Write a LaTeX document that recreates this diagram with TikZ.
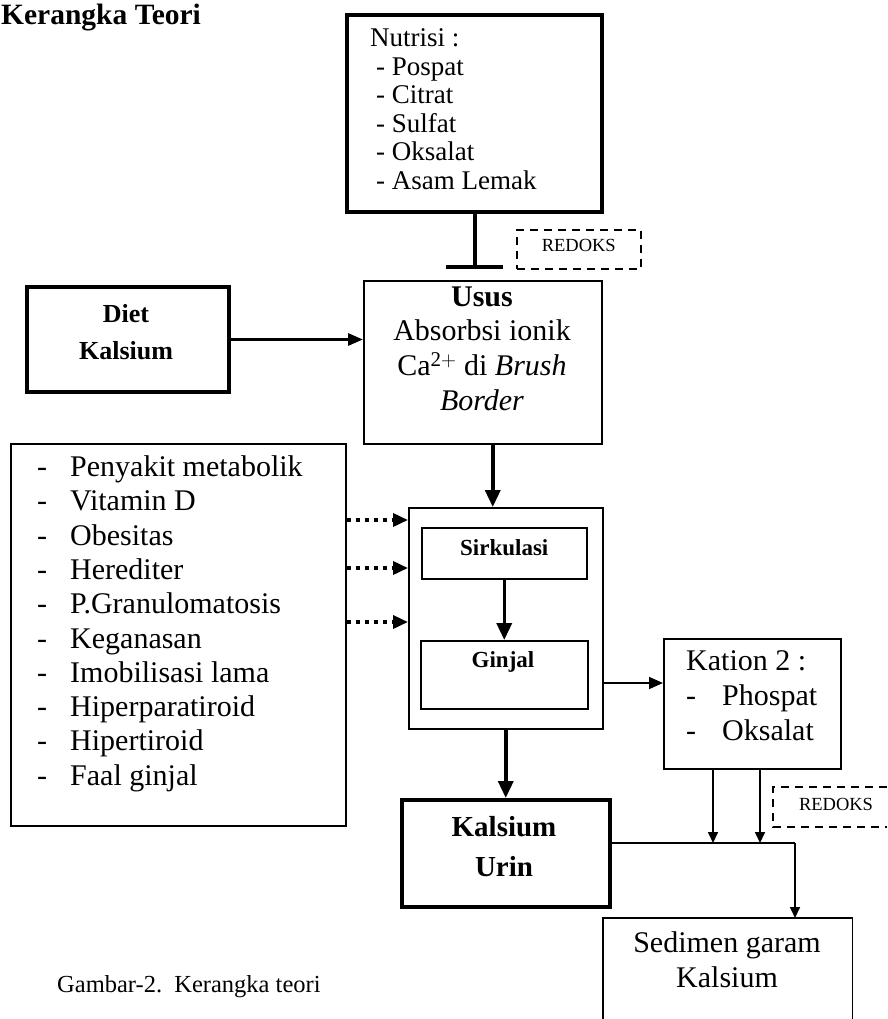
\documentclass[tikz,border=0pt]{standalone}
\usepackage{fontspec}
\setmainfont{Liberation Serif}
\usetikzlibrary{arrows.meta}
\newcommand\szTitle{\fontsize{29.5}{32}\selectfont\bfseries}
\newcommand\szNut{\fontsize{27}{29}\selectfont}
\newcommand\szL{\fontsize{30}{34}\selectfont}
\newcommand\szB{\fontsize{30}{34}\selectfont}
\newcommand\szS{\fontsize{23}{26}\selectfont\bfseries}
\newcommand\szR{\fontsize{18.5}{20}\selectfont}
\newcommand\szCap{\fontsize{24.5}{27}\selectfont}
\begin{document}
\begin{tikzpicture}[x=1pt,y=-1pt,
  thinbox/.style={draw, line width=1.5pt, inner sep=0pt, anchor=north west},
  thickbox/.style={draw, line width=4pt, inner sep=0pt, anchor=north west},
  dbox/.style={draw, line width=1.5pt, dash pattern=on 8pt off 6pt, inner sep=0pt, anchor=north west},
  txt/.style={inner sep=0pt, text height=0.72em, text depth=0.22em},
  heavyarr/.style={line width=3.5pt, -{Triangle[length=17pt,width=15pt]}},
  midarr/.style={line width=3pt, -{Triangle[length=15pt,width=12pt]}},
  dotarr/.style={line width=3.5pt, dash pattern=on 4pt off 5pt, -{Triangle[length=15pt,width=13pt]}},
  thinarr/.style={line width=1.6pt, -{Triangle[length=14pt,width=12pt]}},
  smallarr/.style={line width=1.6pt, -{Triangle[length=11pt,width=10pt]}},
  plain/.style={line width=1.6pt}]
\useasboundingbox (0,0) rectangle (887,1019);
\fill[white] (0,0) rectangle (887,1019);

% title
\node[txt, anchor=west] (title) at (1,22) {\szTitle Kerangka Teori};

% Nutrisi box
\node[thickbox, minimum width=255, minimum height=197] (nut) at (345,13) {};
\node[txt, anchor=west] (n0) at (370,44) {\szNut Nutrisi :};
\foreach \t [count=\i] in {Pospat, Citrat, Sulfat, Oksalat, Asam Lemak}{
  \node[txt, anchor=west] (n\i) at (376,44+\i*28.6) {\szNut - \t};
}

% inhibition connector
\coordinate (inh) at (475,267);
\draw[line width=4pt] (nut.south -| inh) -- (inh);
\draw[line width=4pt] ([xshift=-29pt]inh) -- ([xshift=28pt]inh);

% REDOKS (top)
\node[dbox, minimum width=124, minimum height=39] (red1) at (516,229) {};
\node[txt] (red1t) at (red1.center) {\szR REDOKS};

% Diet Kalsium
\node[thickbox, minimum width=202, minimum height=105] (diet) at (25,285) {};
\node[txt] (diet1) at (126,320) {\fontsize{26}{30}\selectfont\bfseries Diet};
\node[txt] (diet2) at (126,357) {\fontsize{26}{30}\selectfont\bfseries Kalsium};

% Usus
\node[thinbox, minimum width=238, minimum height=163] (usus) at (363,280) {};
\node[txt] (u1) at (482,304) {\szB\bfseries Usus};
\node[txt] (u2) at (482,338) {\szB Absorbsi ionik};
\node[txt] (u3) at (482,373) {\szB Ca$^{\mathrm{2+}}$ di \textit{Brush}};
\node[txt] (u4) at (482,408) {\szB\textit{Border}};

\draw[midarr] (diet.east) -- (diet.east -| usus.west);

% left list
\node[thinbox, minimum width=335, minimum height=382] (list) at (10,443) {};
\foreach \t [count=\i from 0] in {Penyakit metabolik, Vitamin D, Obesitas, Herediter, P.Granulomatosis, Keganasan, Imobilisasi lama, Hiperparatiroid, Hipertiroid, Faal ginjal}{
  \node[txt, anchor=west] (ld\i) at (37,474+\i*34.3) {\szL -};
  \node[txt, anchor=west] (lt\i) at (70,474+\i*34.3) {\szL \t};
}

% outer box with Sirkulasi and Ginjal
\node[thinbox, minimum width=194, minimum height=221] (outer) at (408,507) {};
\node[thinbox, minimum width=165, minimum height=51] (sirk) at (421,527) {};
\node[txt] (sirkt) at (sirk.center) {\szS Sirkulasi};
\node[thinbox, minimum width=167, minimum height=68] (ginj) at (420,640) {};
\node[txt] (ginjt) at (503,665) {\szS Ginjal};

\draw[heavyarr] ([xshift=10pt]usus.south) -- ([xshift=10pt]usus.south |- outer.north);
\draw[heavyarr] (sirk.south) -- (sirk.south |- ginj.north);

% dotted arrows
\coordinate (r1) at (0,520);
\coordinate (r2) at (0,568);
\coordinate (r3) at (0,622);
\foreach \r in {r1,r2,r3}{
  \draw[dotarr] (list.east |- \r) -- (outer.west |- \r);
}

% Kation box
\node[thinbox, minimum width=177, minimum height=130] (kat) at (663,638) {};
\node[txt, anchor=west] (k0) at (686,668) {\szB Kation 2 :};
\node[txt, anchor=west] (k1d) at (686,703) {\szB -};
\node[txt, anchor=west] (k1) at (722,703) {\szB Phospat};
\node[txt, anchor=west] (k2d) at (686,738) {\szB -};
\node[txt, anchor=west] (k2) at (722,738) {\szB Oksalat};

\coordinate (r4) at (0,683);
\draw[thinarr] (outer.east |- r4) -- (kat.west |- r4);

% Kalsium Urin
\node[thickbox, minimum width=208, minimum height=107] (kal) at (400,798) {};
\node[txt] (kal1) at (504,834) {\fontsize{29}{32}\selectfont\bfseries Kalsium};
\node[txt] (kal2) at (504,874) {\fontsize{29}{32}\selectfont\bfseries Urin};
\draw[heavyarr] (outer.south) -- (outer.south |- kal.north);

% Sedimen (open at bottom)
\node[inner sep=0pt, minimum width=249, minimum height=101, anchor=north west] (sed) at (603,918) {};
\draw[plain] (sed.south west) -- (sed.north west) -- (sed.north east) -- (sed.south east);
\node[txt] (s1) at (727,950) {\szB Sedimen garam};
\node[txt] (s2) at (727,985) {\szB Kalsium};

% junction line
\coordinate (jc) at (795,843);
\coordinate (j1) at (713,843);
\coordinate (j2) at (760,843);
\draw[plain] (kal.east |- jc) -- (jc);
\draw[smallarr] (jc) -- (jc |- sed.north);
\draw[smallarr] (kat.south -| j1) -- (j1);
\draw[smallarr] (kat.south -| j2) -- (j2);

% REDOKS (bottom, cut at right edge)
\coordinate (rb) at (773,787);
\draw[line width=1.5pt, dash pattern=on 8pt off 6pt] (887,787) -- (rb) -- (773,827) -- (887,827);
\node[txt] (red2t) at (836,808) {\szR REDOKS};

% caption
\node[txt, anchor=west] (cap) at (57,990) {\szCap Gambar-2.\ \ Kerangka teori};
\end{tikzpicture}
\end{document}
